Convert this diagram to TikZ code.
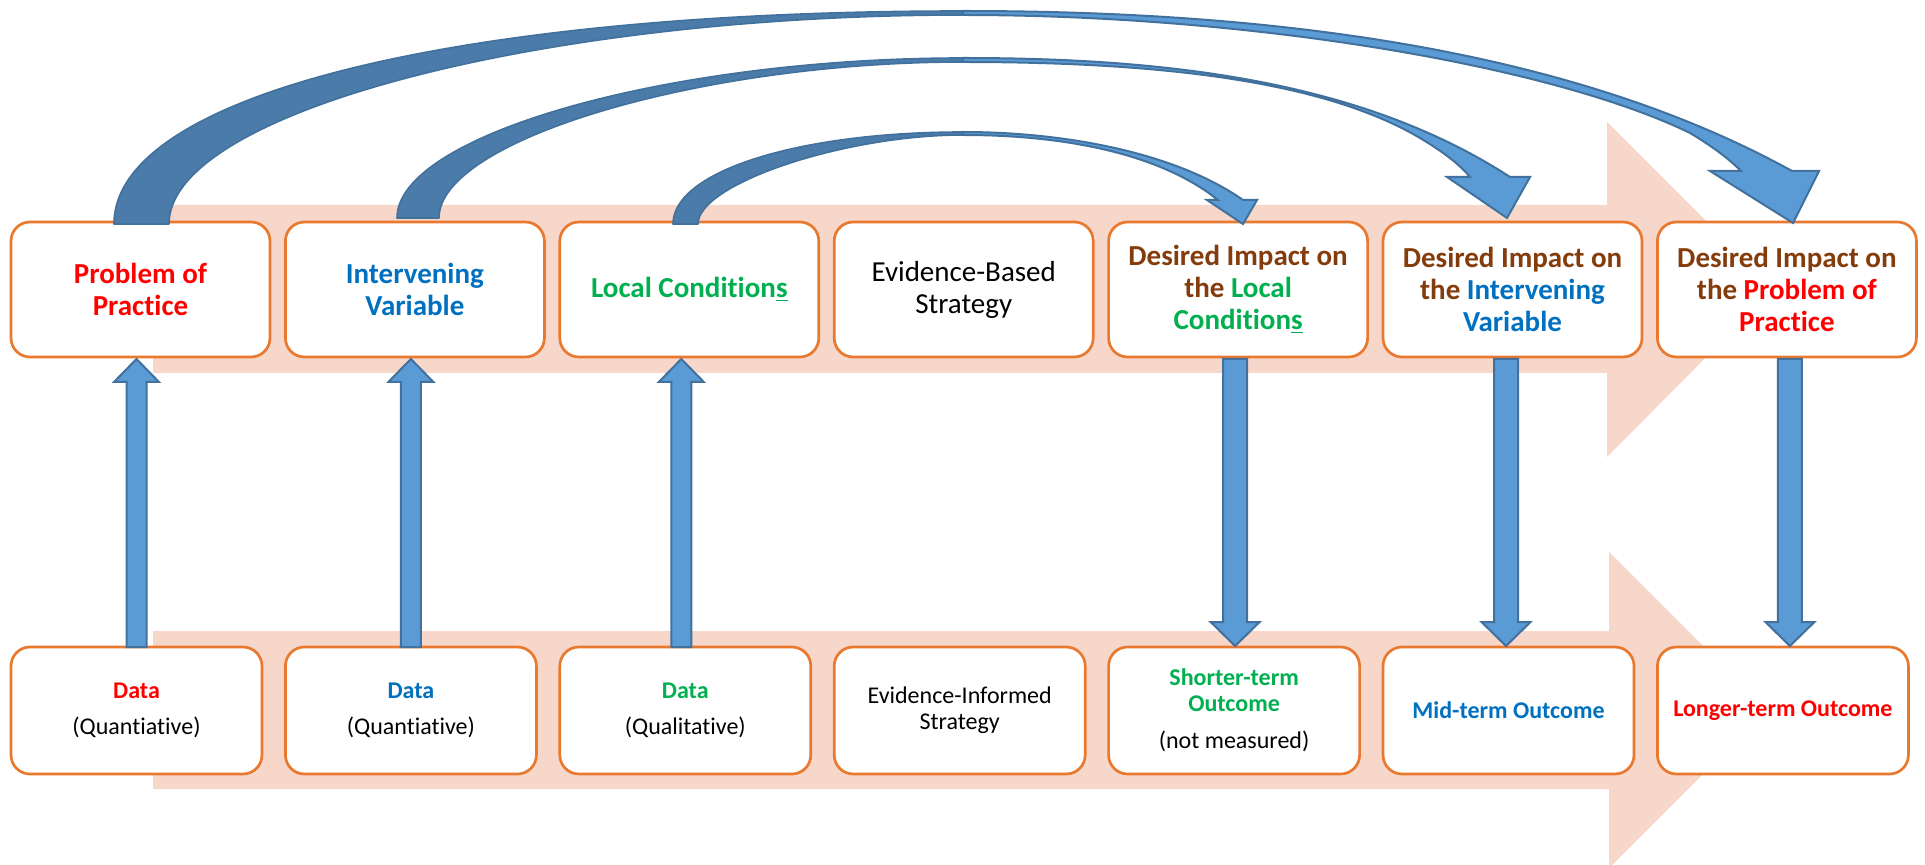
\documentclass[tikz,border=0pt]{standalone}
\usepackage{fontspec}
\setmainfont{Carlito}[Ligatures=NoCommon]
\usetikzlibrary{calc}
\definecolor{pred}{HTML}{FF0000}
\definecolor{pblue}{HTML}{0070C0}
\definecolor{pgreen}{HTML}{00B050}
\definecolor{pbrown}{HTML}{843C0C}
\definecolor{boxorange}{HTML}{E8792F}
\definecolor{salmon}{HTML}{F8D7CB}
\definecolor{arrfill}{HTML}{5B9BD5}
\definecolor{arrline}{HTML}{41719C}
\definecolor{arrdark}{HTML}{4A7BA9}
\tikzset{
  topbox/.style={draw=boxorange, line width=1.35pt, fill=white, rounded corners=9.5pt,
    minimum width=129.5pt, minimum height=67.5pt, inner sep=0pt, outer sep=0pt,
    align=center, font=\fontsize{14.5pt}{16pt}\selectfont},
  topbold/.style={topbox, font=\fontsize{14.5pt}{16pt}\selectfont\bfseries},
  botbox/.style={draw=boxorange, line width=1.35pt, fill=white, rounded corners=9.5pt,
    minimum width=125.5pt, minimum height=63.5pt, inner sep=0pt, outer sep=0pt,
    align=center, font=\fontsize{12pt}{13pt}\selectfont},
  botbold/.style={botbox, font=\fontsize{12pt}{13pt}\selectfont\bfseries},
  band/.style={fill=salmon, draw=none},
  blockarrow/.style={fill=arrfill, draw=arrline, line width=1pt, line join=miter},
  darkarrow/.style={fill=arrdark, draw=arrline, line width=0.8pt, line join=round},
}
\newcommand{\blockup}[2]{%
  \path[blockarrow] ($(#1)+(-10,0)$) -- ($(#2)+(-10,23)$) -- ($(#2)+(-22.5,23)$) -- (#2)
    -- ($(#2)+(22.5,23)$) -- ($(#2)+(10,23)$) -- ($(#1)+(10,0)$) -- cycle;}
\newcommand{\blockdown}[2]{%
  \path[blockarrow] ($(#1)+(-12,0)$) -- ($(#2)+(-12,-24)$) -- ($(#2)+(-24.5,-24)$) -- (#2)
    -- ($(#2)+(24.5,-24)$) -- ($(#2)+(12,-24)$) -- ($(#1)+(12,0)$) -- cycle;}
\begin{document}
\begin{tikzpicture}[x=0.5pt,y=-0.5pt]
\useasboundingbox (0,0) rectangle (1925,865);
% background process arrows
\path[band] (153,205) -- (1607,205) -- (1607,122) -- (1774,289) -- (1607,457) -- (1607,373) -- (153,373) -- cycle;
\path[band] (153,631) -- (1609,631) -- (1609,552) -- (1767,710) -- (1609,868) -- (1609,789) -- (153,789) -- cycle;
% top row
\node[topbold, text=pred] (t1) at (140.5,289.5) {Problem of\\Practice};
\node[topbold, text=pblue] (t2) at (414.9,289.5) {Intervening\\Variable};
\node[topbold, text=pgreen] (t3) at (689.3,289.5) {Local Condition\underline{s}};
\node[topbox] (t4) at (963.7,289.5) {Evidence-Based\\Strategy};
\node[topbold, text=pbrown] (t5) at (1238.1,289.5) {Desired Impact on\\the \textcolor{pgreen}{Local}\\\textcolor{pgreen}{Condition\underline{s}}};
\node[topbold, text=pbrown] (t6) at (1512.5,289.5) {Desired Impact on\\the \textcolor{pblue}{Intervening}\\\textcolor{pblue}{Variable}};
\node[topbold, text=pbrown] (t7) at (1786.9,289.5) {Desired Impact on\\the \textcolor{pred}{Problem of}\\\textcolor{pred}{Practice}};
% bottom row
\node[botbox] (b1) at (136.5,710.5) {\textbf{\textcolor{pred}{Data}}\\[5pt](Quantiative)};
\node[botbox] (b2) at (410.9,710.5) {\textbf{\textcolor{pblue}{Data}}\\[5pt](Quantiative)};
\node[botbox] (b3) at (685.3,710.5) {\textbf{\textcolor{pgreen}{Data}}\\[5pt](Qualitative)};
\node[botbox] (b4) at (959.7,710.5) {Evidence-Informed\\Strategy};
\node[botbox] (b5) at (1234.1,710.5) {\textbf{\textcolor{pgreen}{Shorter-term}}\\\textbf{\textcolor{pgreen}{Outcome}}\\[5.5pt](not measured)};
\node[botbold, text=pblue] (b6) at (1508.5,710.5) {Mid-term Outcome};
\node[botbold, text=pred] (b7) at (1782.9,710.5) {Longer-term Outcome};
% straight block arrows
\coordinate (u1b) at (b1.north);
\coordinate (u1t) at ($(u1b |- t1.south)+(0,2)$);
\coordinate (u2b) at (b2.north);
\coordinate (u2t) at ($(u2b |- t2.south)+(0,2)$);
\coordinate (u3b) at ($(b3.north)+(-4,0)$);
\coordinate (u3t) at ($(u3b |- t3.south)+(0,2)$);
\blockup{u1b}{u1t}
\blockup{u2b}{u2t}
\blockup{u3b}{u3t}
\coordinate (d5t) at ($(t5.south)+(-3,2)$);
\coordinate (d5b) at ($(d5t |- b5.north)+(0,-1)$);
\coordinate (d6t) at ($(t6.south)+(-6.5,2)$);
\coordinate (d6b) at ($(d6t |- b6.north)+(0,-1)$);
\coordinate (d7t) at ($(t7.south)+(3,2)$);
\coordinate (d7b) at ($(d7t |- b7.north)+(0,-1)$);
\blockdown{d5t}{d5b}
\blockdown{d6t}{d6b}
\blockdown{d7t}{d7b}
% curved arrow 1: Problem of Practice -> Desired impact on Problem of Practice
\path[darkarrow] (114,224) .. controls (114,95.4) and (453.6,11) .. (963,11)
  -- (963,15) .. controls (542,15) and (169,112.3) .. (169,224) -- cycle;
\path[blockarrow] (963,11) .. controls (1250,11) and (1560,43) .. (1792,171)
  -- (1819,171) -- (1793,223) -- (1710,171) -- (1741,171)
  .. controls (1730,160) and (1715,148) .. (1690,133)
  .. controls (1550,65) and (1250,15) .. (963,15) -- cycle;
% curved arrow 2: Intervening Variable -> Desired impact on Intervening Variable
\path[darkarrow] (397,218) .. controls (397,134.8) and (668.7,58) .. (963,58)
  -- (963,62) .. controls (701,62) and (439,140) .. (439,218) -- cycle;
\path[blockarrow] (963,58) .. controls (1163,58) and (1360,79.5) .. (1510,177)
  -- (1530,177) -- (1507,218) -- (1447,177) -- (1470,177)
  .. controls (1460,165) and (1445,153) .. (1420,138)
  .. controls (1330,85) and (1180,62) .. (963,62) -- cycle;
% curved arrow 3: Local Conditions -> Desired impact on Local Conditions
\path[darkarrow] (673,224) .. controls (673,171.6) and (797.7,132) .. (963,132)
  -- (963,135) .. controls (843.7,135) and (698,184) .. (698,224) -- cycle;
\path[blockarrow] (963,132) .. controls (1060,132) and (1173,151) .. (1243,200)
  -- (1257,200) -- (1243,224) -- (1207,200) -- (1218,200)
  .. controls (1158,152) and (1060,135) .. (963,135) -- cycle;
\end{tikzpicture}
\end{document}
